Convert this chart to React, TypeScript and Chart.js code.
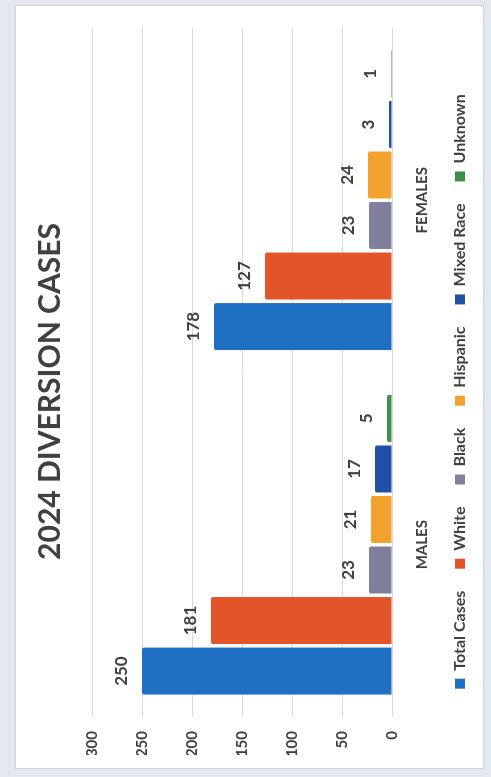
import React, { useEffect, useRef } from "react";
import { Chart, registerables } from "chart.js";

Chart.register(...registerables);

const categories = ["MALES", "FEMALES"];
const seriesNames = ["Total Cases", "White", "Black", "Hispanic", "Mixed Race", "Unknown"];
const totalCases = [250, 178];
const white = [181, 127];
const black = [23, 23];
const hispanic = [21, 24];
const mixedRace = [17, 3];
const unknown = [5, 1];
const valueTicks = [0, 50, 100, 150, 200, 250, 300];
const seriesColors = ["#1f6fc2", "#e2552b", "#80809c", "#f1a22e", "#2151a6", "#3f8f4a"];

const FONT = "Lato, 'Open Sans', sans-serif";
const TEXT = "#404040";

const valueLabels = {
  id: "valueLabels",
  afterDatasetsDraw(chart: any) {
    const ctx = chart.ctx;
    ctx.save();
    ctx.font = `bold 17px ${FONT}`;
    ctx.fillStyle = TEXT;
    ctx.textAlign = "center";
    ctx.textBaseline = "middle";
    chart.data.datasets.forEach((ds: any, i: number) => {
      const meta = chart.getDatasetMeta(i);
      meta.data.forEach((bar: any, j: number) => {
        ctx.fillText(String(ds.data[j]), bar.x, bar.y - 20);
      });
    });
    ctx.restore();
  },
};

export default function App() {
  const canvasRef = useRef<HTMLCanvasElement | null>(null);

  useEffect(() => {
    const seriesData = [totalCases, white, black, hispanic, mixedRace, unknown];
    const chart = new Chart(canvasRef.current as HTMLCanvasElement, {
      type: "bar",
      data: {
        labels: categories,
        datasets: seriesNames.map((name, i) => ({
          label: name,
          data: seriesData[i],
          backgroundColor: seriesColors[i],
          borderWidth: 0,
          borderRadius: 2,
          categoryPercentage: 0.88,
          barPercentage: 0.93,
        })),
      },
      options: {
        responsive: false,
        animation: false,
        layout: { padding: { left: 22, right: 28, top: 0, bottom: 13 } },
        plugins: {
          title: {
            display: true,
            text: "2024 DIVERSION CASES",
            color: TEXT,
            font: { family: FONT, size: 30, weight: "bold" },
            padding: { top: 32, bottom: 24 },
          },
          legend: {
            position: "bottom",
            labels: {
              color: TEXT,
              boxWidth: 10,
              boxHeight: 10,
              padding: 22,
              font: { family: FONT, size: 16, weight: "bold" },
            },
          },
          tooltip: { enabled: false },
        },
        scales: {
          x: {
            grid: { display: false, drawTicks: false },
            border: { display: false },
            ticks: {
              color: TEXT,
              padding: 21,
              font: { family: FONT, size: 15, weight: "bold" },
            },
            afterFit: (s: any) => {
              s.height = 38;
            },
          },
          y: {
            min: valueTicks[0],
            max: valueTicks[valueTicks.length - 1],
            afterBuildTicks: (s: any) => {
              s.ticks = valueTicks.map((v) => ({ value: v }));
            },
            grid: { color: "#d9d9d9", drawTicks: false, lineWidth: 1 },
            border: { display: false },
            ticks: {
              color: TEXT,
              padding: 14,
              font: { family: FONT, size: 15, weight: "bold" },
            },
            afterFit: (s: any) => {
              s.width = 38;
            },
          },
        },
      },
      plugins: [valueLabels],
    });
    return () => chart.destroy();
  }, []);

  return (
    <div
      style={{
        position: "absolute",
        left: 0,
        top: 0,
        width: 491,
        height: 777,
        overflow: "hidden",
        background: "#e3e8ee",
      }}
    >
      <div
        style={{
          position: "absolute",
          left: 15,
          top: 5,
          width: 467,
          height: 762,
          background: "#ffffff",
          border: "1px solid #cfd2d6",
        }}
      />
      <div
        style={{
          position: "absolute",
          left: 0,
          top: 0,
          width: 777,
          height: 491,
          transformOrigin: "0 0",
          transform: "translateY(777px) rotate(-90deg)",
        }}
      >
        <canvas
          ref={canvasRef}
          width={777}
          height={491}
          style={{ display: "block", width: 777, height: 491 }}
        />
      </div>
    </div>
  );
}
